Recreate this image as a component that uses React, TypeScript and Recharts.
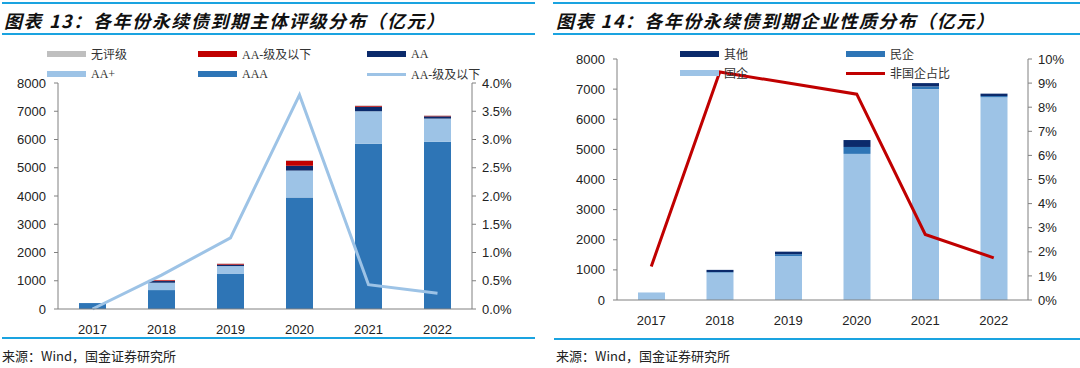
import React from "react"
import {
  Bar,
  ComposedChart,
  Line,
  XAxis,
  YAxis,
} from "recharts"

// ---- 图表13 data ----
const years = ["2017", "2018", "2019", "2020", "2021", "2022"]
const aaa = [210, 670, 1240, 3950, 5850, 5920]
const aaPlus = [0, 260, 280, 950, 1150, 820]
const aa = [0, 60, 50, 170, 160, 80]
const aaMinus = [0, 30, 30, 180, 30, 20]
const unrated = [0, 10, 10, 20, 15, 10]
const aaMinusRatio = [0, 0.6, 1.26, 3.79, 0.43, 0.28]

// ---- 图表14 data ----
const soe = [250, 910, 1460, 4850, 7000, 6730]
const privateEnt = [0, 20, 60, 230, 90, 40]
const others = [0, 70, 85, 230, 110, 80]
const nonSoeRatio = [1.39, 9.46, 9.0, 8.54, 2.72, 1.75]

const ratingData = years.map((y, i) => ({
  year: y,
  AAA: aaa[i],
  "AA+": aaPlus[i],
  AA: aa[i],
  "AA-级及以下": aaMinus[i],
  无评级: unrated[i],
  ratio: aaMinusRatio[i],
}))

const natureData = years.map((y, i) => ({
  year: y,
  国企: soe[i],
  民企: privateEnt[i],
  其他: others[i],
  ratio: nonSoeRatio[i],
}))

const boundaryTicks = years.map((_, i) => i).concat([years.length])

const C_AAA = "#2E75B6"
const C_LIGHT = "#9DC3E6"
const C_NAVY = "#0B2A6B"
const C_RED = "#C00000"
const C_GRAY = "#BFBFBF"
const C_RULE = "#1AA3E0"
const AXIS = "#808080"

const tickStyle = { fontFamily: "Liberation Sans, Arial", fontSize: 13, fill: "#222" }
const legendFont = "'Liberation Serif', 'Noto Sans CJK SC', serif"
const cjk = "'Noto Sans CJK SC', sans-serif"

const Swatch = ({ x, y, color, label, line }: any) => (
  <div style={{ position: "absolute", left: x, top: y, display: "flex", alignItems: "center", height: 14 }}>
    <div style={{ width: 39, height: line ? 3 : 6, background: color }} />
    <span style={{ marginLeft: 5, fontSize: 12, fontFamily: legendFont, color: "#333", whiteSpace: "nowrap" }}>
      {label}
    </span>
  </div>
)

const Title = ({ x, text, spacing }: any) => (
  <div
    style={{
      position: "absolute",
      left: x,
      top: 7,
      fontFamily: cjk,
      fontSize: 18,
      fontWeight: 700,
      fontStyle: "italic",
      letterSpacing: spacing,
      color: "#111",
      whiteSpace: "nowrap",
    }}
  >
    {text}
  </div>
)

const Rule = ({ x, y, w }: any) => (
  <div style={{ position: "absolute", left: x, top: y, width: w, height: 2, background: C_RULE }} />
)

const Source = ({ x }: any) => (
  <div style={{ position: "absolute", left: x, top: 346, fontSize: 13, fontFamily: cjk, color: "#222", whiteSpace: "nowrap" }}>
    来源：Wind，国金证券研究所
  </div>
)

export default function App() {
  return (
    <div style={{ position: "absolute", left: 0, top: 0, width: 1080, height: 368, background: "#fff", overflow: "hidden" }}>
      <Rule x={2} y={2} w={533} />
      <Rule x={2} y={33} w={533} />
      <Rule x={553} y={2} w={527} />
      <Rule x={553} y={33} w={527} />
      <Title x={4} spacing={1.6} text="图表 13：各年份永续债到期主体评级分布（亿元）" />
      <Title x={556} spacing={1.5} text="图表 14：各年份永续债到期企业性质分布（亿元）" />

      {/* left chart */}
      <div style={{ position: "absolute", left: 0, top: 0 }}>
        <ComposedChart
          width={540}
          height={368}
          data={ratingData}
          margin={{ top: 83, right: 18, bottom: 29, left: 8 }}
          barCategoryGap={0}
        >
          {/* tick marks between categories */}
          <XAxis
            xAxisId="t"
            type="number"
            domain={[0, 6]}
            ticks={boundaryTicks}
            tick={false}
            tickSize={4}
            axisLine={false}
            stroke={AXIS}
            height={0}
          />
          <XAxis dataKey="year" height={30} tick={tickStyle} stroke={AXIS} tickLine={false} tickMargin={10} />
          <YAxis
            yAxisId="l"
            width={50}
            domain={[0, 8000]}
            ticks={[0, 1000, 2000, 3000, 4000, 5000, 6000, 7000, 8000]}
            tick={tickStyle}
            stroke={AXIS}
            tickSize={4}
            tickMargin={8}
            interval={0}
          />
          <YAxis
            yAxisId="r"
            orientation="right"
            width={50}
            domain={[0, 4]}
            ticks={[0, 0.5, 1, 1.5, 2, 2.5, 3, 3.5, 4]}
            tickFormatter={(v: number) => v.toFixed(1) + "%"}
            tick={tickStyle}
            stroke={AXIS}
            tickSize={4}
            tickMargin={6}
            interval={0}
          />
          <Bar yAxisId="l" dataKey="AAA" stackId="a" fill={C_AAA} barSize={27} isAnimationActive={false} />
          <Bar yAxisId="l" dataKey="AA+" stackId="a" fill={C_LIGHT} barSize={27} isAnimationActive={false} />
          <Bar yAxisId="l" dataKey="AA" stackId="a" fill={C_NAVY} barSize={27} isAnimationActive={false} />
          <Bar yAxisId="l" dataKey="AA-级及以下" stackId="a" fill={C_RED} barSize={27} isAnimationActive={false} />
          <Bar yAxisId="l" dataKey="无评级" stackId="a" fill={C_GRAY} barSize={27} isAnimationActive={false} />
          <Line
            yAxisId="r"
            dataKey="ratio"
            stroke={C_LIGHT}
            strokeWidth={3}
            dot={false}
            type="linear"
            isAnimationActive={false}
          />
        </ComposedChart>
      </div>
      <Swatch x={47} y={47} color={C_GRAY} label="无评级" />
      <Swatch x={198} y={47} color={C_RED} label="AA-级及以下" />
      <Swatch x={367} y={47} color={C_NAVY} label="AA" />
      <Swatch x={47} y={67} color={C_LIGHT} label="AA+" />
      <Swatch x={198} y={67} color={C_AAA} label="AAA" />
      <Swatch x={367} y={67} color={C_LIGHT} label="AA-级及以下" line />

      {/* right chart */}
      <div style={{ position: "absolute", left: 540, top: 0 }}>
        <ComposedChart
          width={540}
          height={368}
          data={natureData}
          margin={{ top: 59, right: 6, bottom: 38, left: 27 }}
          barCategoryGap={0}
        >
          <XAxis
            xAxisId="t"
            type="number"
            domain={[0, 6]}
            ticks={boundaryTicks}
            tick={false}
            tickSize={4}
            axisLine={false}
            stroke={AXIS}
            height={0}
          />
          <XAxis dataKey="year" height={30} tick={tickStyle} stroke={AXIS} tickLine={false} tickMargin={10} />
          <YAxis
            yAxisId="l"
            width={50}
            domain={[0, 8000]}
            ticks={[0, 1000, 2000, 3000, 4000, 5000, 6000, 7000, 8000]}
            tick={tickStyle}
            stroke={AXIS}
            tickSize={4}
            tickMargin={8}
            interval={0}
          />
          <YAxis
            yAxisId="r"
            orientation="right"
            width={46}
            domain={[0, 10]}
            ticks={[0, 1, 2, 3, 4, 5, 6, 7, 8, 9, 10]}
            tickFormatter={(v: number) => v + "%"}
            tick={tickStyle}
            stroke={AXIS}
            tickSize={4}
            tickMargin={6}
            interval={0}
          />
          <Bar yAxisId="l" dataKey="国企" stackId="b" fill={C_LIGHT} barSize={27} isAnimationActive={false} />
          <Bar yAxisId="l" dataKey="民企" stackId="b" fill={C_AAA} barSize={27} isAnimationActive={false} />
          <Bar yAxisId="l" dataKey="其他" stackId="b" fill={C_NAVY} barSize={27} isAnimationActive={false} />
          <Line
            yAxisId="r"
            dataKey="ratio"
            stroke={C_RED}
            strokeWidth={3}
            dot={false}
            type="linear"
            isAnimationActive={false}
          />
        </ComposedChart>
      </div>
      <Swatch x={680} y={47} color={C_NAVY} label="其他" />
      <Swatch x={846} y={47} color={C_AAA} label="民企" />
      <Swatch x={680} y={66} color={C_LIGHT} label="国企" />
      <Swatch x={846} y={66} color={C_RED} label="非国企占比" line />

      <Rule x={2} y={337} w={533} />
      <Rule x={554} y={338} w={526} />
      <Source x={2} />
      <Source x={556} />
    </div>
  )
}
